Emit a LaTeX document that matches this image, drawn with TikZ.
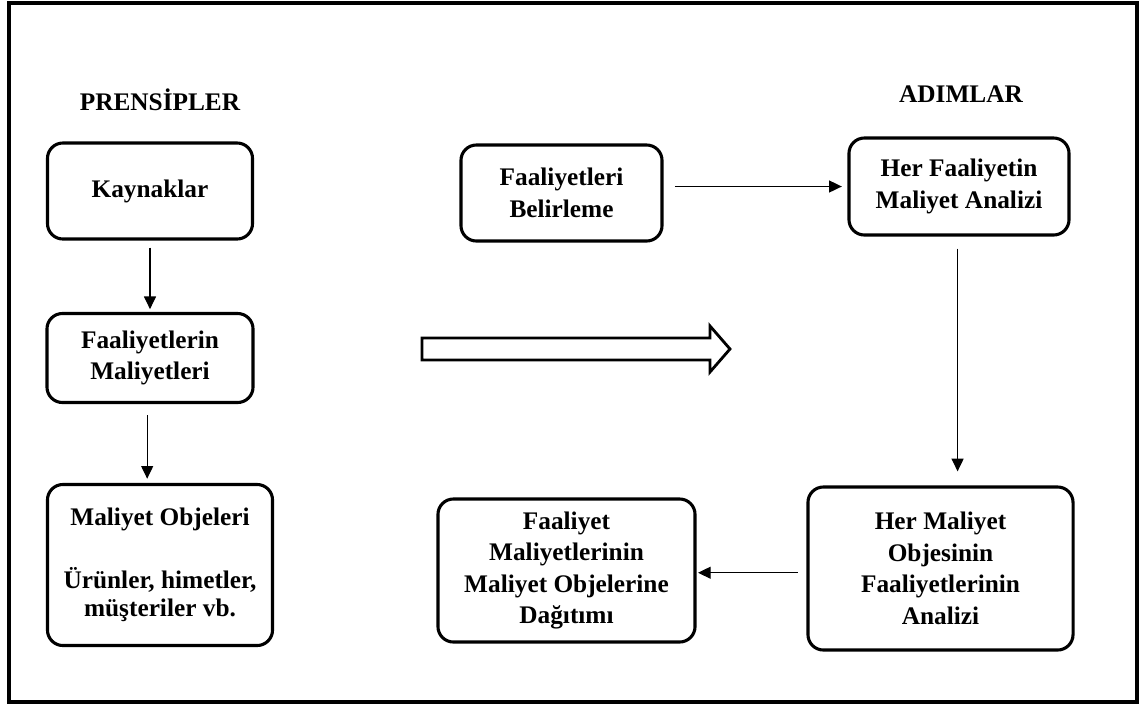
\documentclass[tikz,border=0pt]{standalone}
\usepackage{fontspec}
\setmainfont{Liberation Serif}
\usetikzlibrary{arrows.meta, positioning}

\begin{document}
\begin{tikzpicture}[
    x=0.025cm, y=-0.025cm,
    box/.style={rectangle, draw, line width=2.2pt, rounded corners=11pt,
                align=center, inner sep=2pt,
                font=\fontsize{18}{22.4}\selectfont\bfseries},
    heading/.style={font=\fontsize{18}{22.4}\selectfont\bfseries},
    arr/.style={-{Triangle[length=9pt, width=8.5pt]}, line width=0.8pt},
]
\useasboundingbox (0,0) rectangle (1144,706);
\draw[line width=2.2pt] (9,3) rectangle (1137,702);

% Headings
\node[heading] (prensip) at (160,100) {PRENS\.IPLER};
\node[heading] (adim) at (961,94) {ADIMLAR};

% Principles
\node[box, minimum width=5.125cm, minimum height=2.4cm] (kaynak) at (150,191) {Kaynaklar};
\node[box, minimum width=5.15cm, minimum height=2.225cm] (maliyet) at (150,358) {Faaliyetlerin\\Maliyetleri};
\node[box, minimum width=5.625cm, minimum height=4.025cm,
      font=\fontsize{18}{20}\selectfont\bfseries] (obje) at (160,565)
      {Maliyet Objeleri\\[25pt]Ürünler, himetler,\\müşteriler vb.};

% Steps
\node[box, minimum width=5.025cm, minimum height=2.4cm] (belirle) at (561.5,193) {Faaliyetleri\\Belirleme};
\node[box, minimum width=5.5cm, minimum height=2.425cm] (analiz) at (959,186.5) {Her Faaliyetin\\Maliyet Analizi};
\node[box, minimum width=6.625cm, minimum height=4.075cm] (objeanaliz) at (940.5,568.5)
      {Her Maliyet\\Objesinin\\Faaliyetlerinin\\Analizi};
\node[box, minimum width=6.425cm, minimum height=3.575cm] (dagitim) at (566.5,570.5)
      {Faaliyet\\Maliyetlerinin\\Maliyet Objelerine\\Dağıtımı};

% Hollow arrow between the two columns
\draw[line width=2pt, line join=miter] (422,338) -- (710,338) -- (710,326) -- (730,349)
      -- (710,372) -- (710,360) -- (422,360) -- cycle;

% Arrows
\draw[arr, shorten <=5pt, shorten >=2pt] (kaynak.south) -- (maliyet.north);
\draw[arr, shorten <=8pt, shorten >=3pt] ([xshift=-2pt]maliyet.south) -- ([xshift=-2pt]maliyet.south |- obje.north);
\draw[arr, shorten <=8pt, shorten >=4pt] (belirle.east |- analiz.west) -- (analiz.west);
\draw[arr, shorten <=8.5pt, shorten >=10pt] ([xshift=-1pt]analiz.south) -- ([xshift=-1pt]analiz.south |- objeanaliz.north);
\draw[arr, shorten <=6pt, shorten >=1pt] ([yshift=-3pt]objeanaliz.west) -- ([yshift=-3pt]objeanaliz.west -| dagitim.east);

\end{tikzpicture}
\end{document}
